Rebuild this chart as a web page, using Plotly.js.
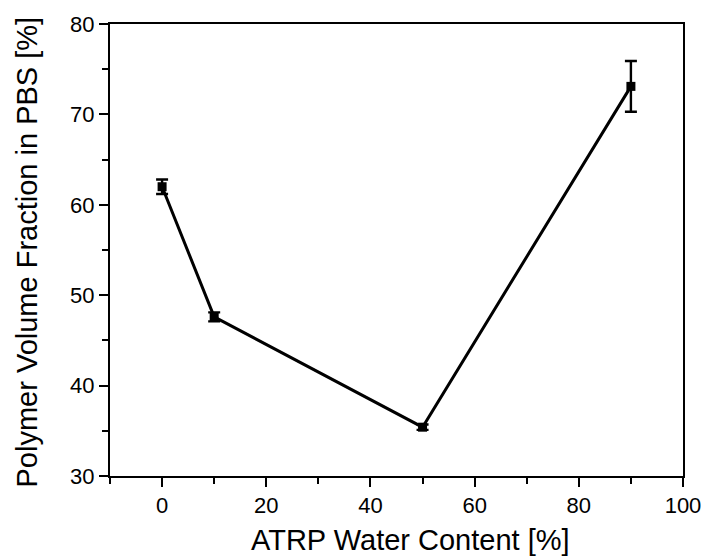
<!DOCTYPE html>
<html>
<head>
<meta charset="utf-8">
<script src="https://cdn.plot.ly/plotly-3.0.1.min.js"></script>
<style>
  html, body { margin: 0; padding: 0; background: #fff; }
  #chart { width: 709px; height: 558px; }
</style>
</head>
<body>
<div id="chart"></div>
<script>
// ATRP water content (%) vs. polymer volume fraction swollen in PBS (%)
const waterContent = [0, 10, 50, 90];
const volumeFraction = [62.0, 47.6, 35.4, 73.1];
const fractionError = [0.8, 0.5, 0.3, 2.8];

const xTickVals = [0, 20, 40, 60, 80, 100];
const yTickVals = [30, 40, 50, 60, 70, 80];

const xTitle = 'ATRP Water Content [%]';
const yTitle = 'Polymer Volume Fraction in PBS [%]';

const FONT = 'Liberation Sans, Arial, sans-serif';

const trace = {
  x: waterContent,
  y: volumeFraction,
  type: 'scatter',
  mode: 'lines+markers',
  line: { color: '#000', width: 3 },
  marker: { symbol: 'square', size: 9, color: '#000' },
  error_y: {
    type: 'data',
    array: fractionError,
    visible: true,
    color: '#000',
    thickness: 2.4,
    width: 6
  },
  hoverinfo: 'x+y'
};

const axisCommon = {
  showline: true,
  linecolor: '#000',
  linewidth: 2,
  mirror: true,
  showgrid: false,
  zeroline: false,
  ticks: 'outside',
  ticklen: 9,
  tickwidth: 2,
  tickcolor: '#000',
  tickfont: { family: FONT, size: 22, color: '#000' }
};

const layout = {
  width: 709,
  height: 558,
  margin: { l: 110, r: 26, t: 24, b: 82 },
  paper_bgcolor: '#fff',
  plot_bgcolor: '#fff',
  showlegend: false,
  xaxis: Object.assign({}, axisCommon, {
    range: [-10, 100],
    tickmode: 'array',
    tickvals: xTickVals,
    ticktext: xTickVals.map(String),
    minor: { dtick: 10, tick0: 0, ticks: 'outside', ticklen: 6, tickwidth: 2, tickcolor: '#000', showgrid: false }
  }),
  yaxis: Object.assign({}, axisCommon, {
    range: [30, 80],
    tickmode: 'array',
    tickvals: yTickVals,
    ticktext: yTickVals.map(String),
    minor: { dtick: 5, tick0: 30, ticks: 'outside', ticklen: 6, tickwidth: 2, tickcolor: '#000', showgrid: false }
  }),
  annotations: [
    {
      text: xTitle,
      xref: 'paper', yref: 'paper',
      x: 0.525, y: 0,
      xanchor: 'center', yanchor: 'middle',
      yshift: -64,
      showarrow: false,
      font: { family: FONT, size: 29, color: '#000' }
    },
    {
      text: yTitle,
      xref: 'paper', yref: 'paper',
      x: -0.144, y: 0.5,
      xanchor: 'center', yanchor: 'middle',
      yshift: -2,
      textangle: -90,
      showarrow: false,
      font: { family: FONT, size: 29, color: '#000' }
    }
  ]
};

Plotly.newPlot('chart', [trace], layout, { displayModeBar: false, staticPlot: true });
</script>
</body>
</html>
